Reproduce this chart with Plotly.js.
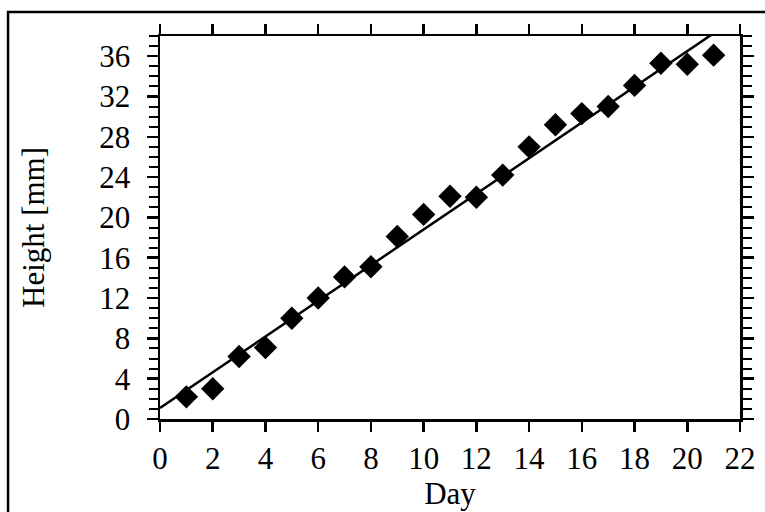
<!DOCTYPE html>
<html>
<head>
<meta charset="utf-8">
<script src="https://cdn.plot.ly/plotly-3.0.1.min.js"></script>
<style>html,body{margin:0;padding:0;background:#fff;}#chart{width:765px;height:512px;}</style>
</head>
<body>
<div id="chart"></div>
<script>
const days = [1,2,3,4,5,6,7,8,9,10,11,12,13,14,15,16,17,18,19,20,21];
const heights = [2.2,3.0,6.2,7.1,10.0,12.0,14.1,15.1,18.1,20.3,22.1,22.0,24.2,27.0,29.2,30.3,31.0,33.1,35.3,35.2,36.1];
const fitIntercept = 1.1;
const fitSlope = 1.77;
const fitX = [0, 22];
const fitY = fitX.map(x => fitIntercept + fitSlope * x);
const xTicks = [0,2,4,6,8,10,12,14,16,18,20,22];
const yTicks = [0,4,8,12,16,20,24,28,32,36];

const font = {family: 'Liberation Serif, Times New Roman, serif', size: 31, color: '#000'};

const traces = [
  {x: fitX, y: fitY, mode: 'lines', line: {color: '#000', width: 2.5}, showlegend: false, hoverinfo: 'skip'},
  {x: days, y: heights, mode: 'markers', marker: {symbol: 'diamond', size: 18, color: '#000'}, showlegend: false}
];

const layout = {
  width: 765, height: 512,
  margin: {l: 160, r: 25, t: 36, b: 93},
  paper_bgcolor: '#fff', plot_bgcolor: '#fff',
  font: font,
  showlegend: false,
  xaxis: {
    range: [0, 22], tickvals: xTicks, ticktext: xTicks.map(String),
    ticks: 'outside', ticklen: 10, tickwidth: 2.5, tickcolor: '#000',
    showline: true, linewidth: 2.5, linecolor: '#000', mirror: 'allticks',
    showgrid: false, zeroline: false,
    tickfont: font, ticklabelstandoff: 0,
    title: {text: 'Day', font: font, standoff: 6}
  },
  yaxis: {
    range: [0, 38], tickvals: yTicks, ticktext: yTicks.map(String),
    ticks: 'outside', ticklen: 11, tickwidth: 2.5, tickcolor: '#000',
    minor: {dtick: 1, tick0: 0, ticks: 'outside', ticklen: 9, tickwidth: 2, tickcolor: '#000'},
    showline: true, linewidth: 2.5, linecolor: '#000', mirror: 'allticks',
    showgrid: false, zeroline: false,
    tickfont: font, ticklabelstandoff: 10,
    title: {text: 'Height [mm]', font: font, standoff: 46}
  },
  shapes: [
    {type: 'rect', xref: 'paper', yref: 'paper', x0: -0.262, x1: 1.2, y0: -0.4, y1: 1.0627,
     line: {color: '#000', width: 2.5}, fillcolor: 'rgba(0,0,0,0)', layer: 'below'}
  ]
};

Plotly.newPlot('chart', traces, layout, {staticPlot: true, displayModeBar: false});
</script>
</body>
</html>
